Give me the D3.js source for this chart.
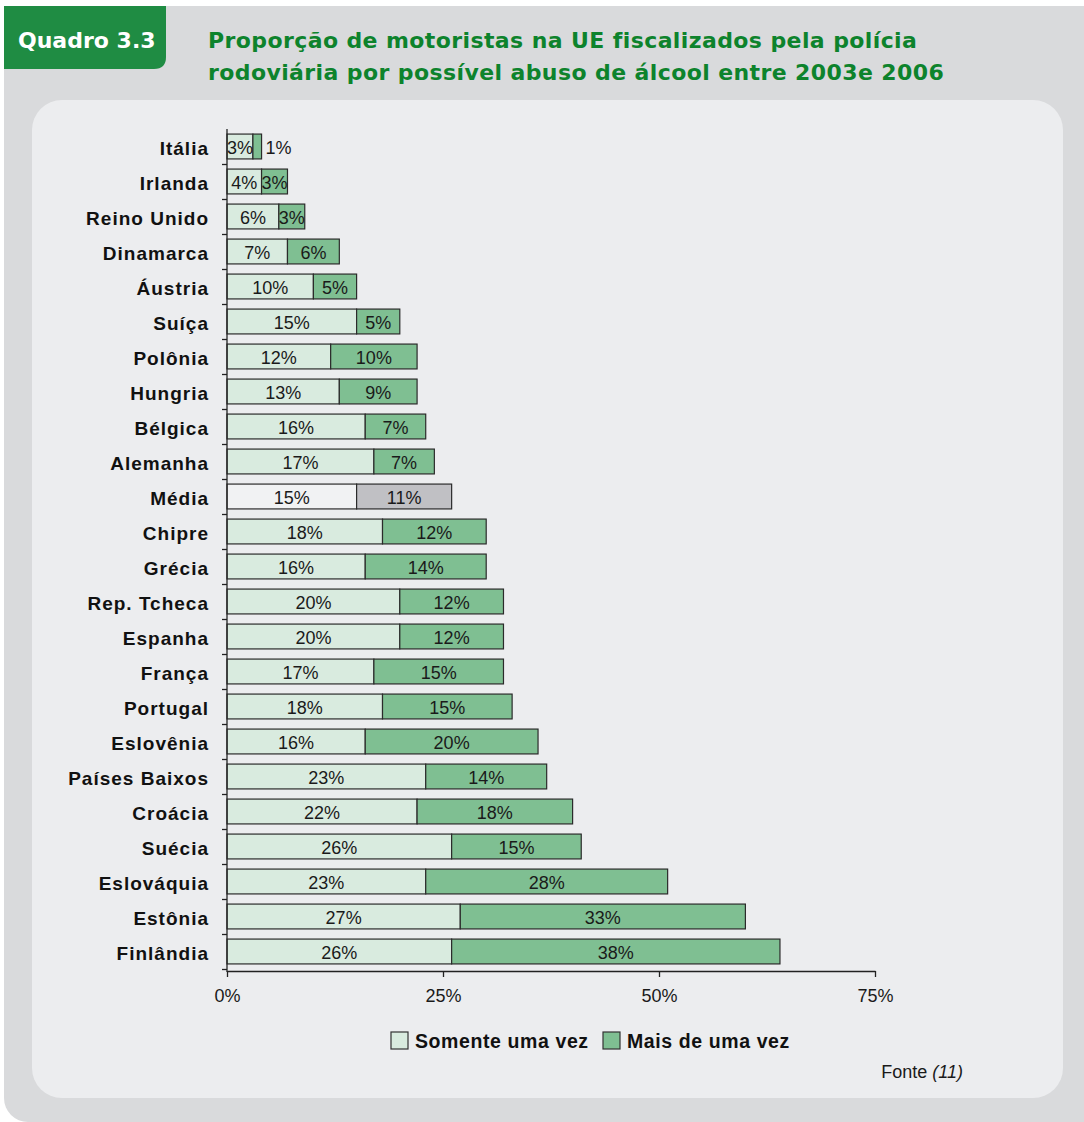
<!DOCTYPE html>
<html lang="pt">
<head>
<meta charset="utf-8">
<script src="https://cdn.jsdelivr.net/npm/d3@7"></script>
<style>
  html, body { margin: 0; padding: 0; background: #ffffff; }
  svg { display: block; }
  text { font-family: "Liberation Sans", Arial, sans-serif; }
  .heavy { font-family: "DejaVu Sans", "Liberation Sans", sans-serif; font-weight: bold; }
</style>
</head>
<body>
<svg id="chart" width="1084" height="1122"></svg>
<script>
// Countries, top to bottom
const categories = [
  "Itália", "Irlanda", "Reino Unido", "Dinamarca", "Áustria", "Suíça",
  "Polônia", "Hungria", "Bélgica", "Alemanha", "Média", "Chipre", "Grécia",
  "Rep. Tcheca", "Espanha", "França", "Portugal", "Eslovênia",
  "Países Baixos", "Croácia", "Suécia", "Eslováquia", "Estônia", "Finlândia"
];
// % of drivers checked once
const onceValues = [3, 4, 6, 7, 10, 15, 12, 13, 16, 17, 15, 18, 16, 20, 20, 17, 18, 16, 23, 22, 26, 23, 27, 26];
// % of drivers checked more than once
const moreValues = [1, 3, 3, 6, 5, 5, 10, 9, 7, 7, 11, 12, 14, 12, 12, 15, 15, 20, 14, 18, 15, 28, 33, 38];
const xTicks = [0, 25, 50, 75];
const seriesNames = ["Somente uma vez", "Mais de uma vez"];
const averageLabel = "Média";

const colors = {
  once: "#d9ebdf",
  more: "#7fbf92",
  avgOnce: "#f1f2f3",
  avgMore: "#c0c0c4",
  stroke: "#2b2b2b"
};

const svg = d3.select("#chart");

// Page frame: grey outer panel, green tab, light inner panel
svg.append("rect").attr("x", 4).attr("y", 6).attr("width", 1120).attr("height", 1116)
  .attr("rx", 24).attr("fill", "#d9dadc");
svg.append("path")
  .attr("d", "M4,6 H166 V57 Q166,69 154,69 H4 Z")
  .attr("fill", "#1f8c43");
svg.append("text").attr("class", "heavy").attr("x", 18).attr("y", 48)
  .attr("fill", "#ffffff").attr("font-size", 22)
  .text("Quadro 3.3");
const title = svg.append("text").attr("class", "heavy")
  .attr("fill", "#0d832c").attr("font-size", 22).attr("letter-spacing", 0.4);
title.append("tspan").attr("x", 208).attr("y", 48)
  .text("Proporção de motoristas na UE fiscalizados pela polícia");
title.append("tspan").attr("x", 208).attr("y", 80)
  .text("rodoviária por possível abuso de álcool entre 2003e 2006");

svg.append("rect").attr("x", 32).attr("y", 100).attr("width", 1031).attr("height", 998)
  .attr("rx", 30).attr("fill", "#ecedef");

// Scales
const x = d3.scaleLinear().domain([0, 75]).range([227, 875]);
const y = d3.scaleBand().domain(categories).range([129, 969]).paddingInner(0.29).paddingOuter(0.145);
const yEdge = d3.scaleLinear().domain([0, categories.length]).range([129, 969]);

const rows = categories.map((c, i) => ({ name: c, once: onceValues[i], more: moreValues[i] }));

// Bars
const g = svg.append("g");
const row = g.selectAll("g.row").data(rows).join("g").attr("class", "row");

row.append("rect")
  .attr("x", x(0))
  .attr("y", d => y(d.name))
  .attr("width", d => x(d.once) - x(0))
  .attr("height", y.bandwidth())
  .attr("fill", d => d.name === averageLabel ? colors.avgOnce : colors.once)
  .attr("stroke", colors.stroke).attr("stroke-width", 1.2);

row.append("rect")
  .attr("x", d => x(d.once))
  .attr("y", d => y(d.name))
  .attr("width", d => x(d.once + d.more) - x(d.once))
  .attr("height", y.bandwidth())
  .attr("fill", d => d.name === averageLabel ? colors.avgMore : colors.more)
  .attr("stroke", colors.stroke).attr("stroke-width", 1.2);

const valueFont = 18;
// Centre the value in its segment, or put it just right of the bar when it does not fit
function placeLabel(sel, x0, x1, v) {
  const t = v + "%";
  const w = x1 - x0;
  const est = t.length === 2 ? 24 : 34;
  if (w >= est - 2) {
    sel.attr("x", (x0 + x1) / 2).attr("text-anchor", "middle");
  } else {
    sel.attr("x", x1 + 4).attr("text-anchor", "start");
  }
  sel.text(t);
}

row.append("text")
  .attr("y", d => y(d.name) + y.bandwidth() / 2 + 7)
  .attr("font-size", valueFont).attr("fill", "#1a1a1a")
  .each(function (d) { placeLabel(d3.select(this), x(0), x(d.once), d.once); });

row.append("text")
  .attr("y", d => y(d.name) + y.bandwidth() / 2 + 7)
  .attr("font-size", valueFont).attr("fill", "#1a1a1a")
  .each(function (d) { placeLabel(d3.select(this), x(d.once), x(d.once + d.more), d.more); });

// Category labels
svg.append("g").selectAll("text").data(categories).join("text")
  .attr("x", 209)
  .attr("y", d => y(d) + y.bandwidth() / 2 + 8)
  .attr("text-anchor", "end")
  .attr("font-weight", "bold").attr("font-size", 19).attr("letter-spacing", 1)
  .attr("fill", "#111")
  .text(d => d);

// Left axis: ticks at row boundaries
const yAxis = svg.append("g").attr("transform", `translate(${x(0)},0)`)
  .call(d3.axisLeft(yEdge).tickValues(d3.range(1, categories.length + 1)).tickSize(5).tickFormat(""));
yAxis.select(".domain").attr("d", `M-0,${yEdge(0)}V${yEdge(categories.length) + 3}`);

// Bottom axis
const xAxis = svg.append("g").attr("transform", `translate(0,${yEdge(categories.length) + 2})`)
  .call(d3.axisBottom(x).tickValues(xTicks).tickSize(6).tickSizeOuter(0).tickFormat(d => d + "%"));
xAxis.selectAll("text").attr("font-size", 18).attr("fill", "#1a1a1a").attr("dy", "1.2em");
svg.selectAll(".domain, .tick line").attr("stroke", "#222").attr("stroke-width", 1.3);

// Legend
const legend = svg.append("g");
const legendItems = [
  { label: seriesNames[0], color: colors.once, x: 391 },
  { label: seriesNames[1], color: colors.more, x: 603 }
];
legendItems.forEach(it => {
  legend.append("rect").attr("x", it.x).attr("y", 1032).attr("width", 17).attr("height", 17)
    .attr("fill", it.color).attr("stroke", "#333").attr("stroke-width", 1.2);
  legend.append("text").attr("x", it.x + 24).attr("y", 1048)
    .attr("font-weight", "bold").attr("font-size", 19.5).attr("letter-spacing", 0.6)
    .attr("fill", "#111").text(it.label);
});

// Source
const src = svg.append("text").attr("x", 963).attr("y", 1078).attr("text-anchor", "end")
  .attr("font-size", 18).attr("fill", "#1a1a1a");
src.append("tspan").text("Fonte ");
src.append("tspan").attr("font-style", "italic").text("(11)");
</script>
</body>
</html>
